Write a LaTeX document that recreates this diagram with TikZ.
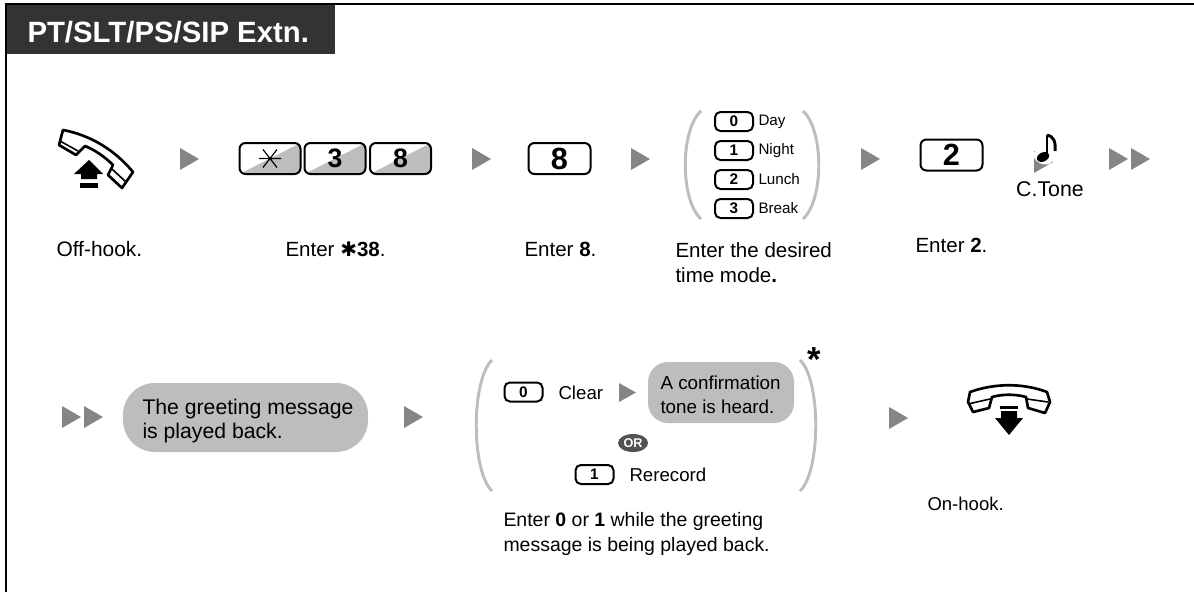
\documentclass[tikz,border=0pt]{standalone}
\usepackage{fontspec}
\usetikzlibrary{shapes.geometric}
\setmainfont{Liberation Sans}
\newfontfamily\symfont{DejaVu Sans}
\definecolor{markgray}{HTML}{858585}
\definecolor{softgray}{HTML}{BDBDBD}
\definecolor{headgray}{HTML}{333333}
\tikzset{every picture/.style={line width=0.75pt}}
\tikzset{
    bigkey/.style={draw, line width=1.5pt, rounded corners=4.5, minimum width=62*0.75pt, minimum height=31*0.75pt, inner sep=0pt, font=\fontsize{23}{23}\bfseries\selectfont},
    halfkey/.style={bigkey, minimum width=61*0.75pt, font=\fontsize{20}{20}\bfseries\selectfont, path picture={\fill[softgray] (path picture bounding box.south west) -- (path picture bounding box.north east) -- (path picture bounding box.south east) -- cycle;}},
    smallkey/.style={draw, line width=1.5pt, rounded corners=4, minimum width=38*0.75pt, minimum height=19*0.75pt, inner sep=0pt, font=\fontsize{11.5}{11.5}\bfseries\selectfont},
    steptext/.style={font=\fontsize{15.4}{18.5}\selectfont, align=left, inner sep=0pt},
    choicetext/.style={font=\fontsize{14.6}{19}\selectfont, align=left, inner sep=0pt},
    picktext/.style={font=\fontsize{11.4}{11.4}\selectfont, anchor=west, inner sep=0pt},
    choiceword/.style={font=\fontsize{14}{14}\selectfont, anchor=west, inner sep=0pt},
    bubble/.style={fill=softgray, inner sep=0pt},
    bubbletext/.style={align=left, anchor=west, inner sep=0pt},
    bracket/.style={draw=softgray, line width=2.2pt},
    playmark/.style={fill=markgray}
}

\begin{document}
\begin{tikzpicture}[x=0.75pt,y=0.75pt,yscale=-1,xscale=1]
    \useasboundingbox (0,0) rectangle (1194,592);

    %Frame
    \draw[line width=2pt] (6,592) -- (6,4) -- (1194,4);
    \fill[headgray] (7,5) rectangle (335,54);
    \node (title) [anchor=west, inner sep=0pt, text=white, font=\fontsize{22}{22}\bfseries\selectfont] at (27,32) {PT/SLT/PS/SIP Extn.};

    %Play marks
    \foreach \ax/\ay in {180/159, 472/159, 631/159, 861/159, 1109/159, 1131/159, 62/417, 84/417, 404/417, 889/418}
        \fill[playmark] (\ax,\ay-11) -- (\ax+19,\ay) -- (\ax,\ay+11) -- cycle;
    \fill[playmark] (619,383) -- (636,392.5) -- (619,402) -- cycle;
    \fill[playmark] (1034,151) -- (1053,162) -- (1034,173) -- cycle;

    %Off-hook
    \draw[line width=2pt, line join=round] (63,130) .. controls (90,135) and (115,150) .. (133,172) -- (122,188) -- (108,175) -- (113,165) .. controls (105,157) and (95,150) .. (85,146) -- (76,155) -- (59,145) -- cycle;
    \draw[line width=1.2pt] (60,141) -- (78,151) (112,169) -- (126,182);
    \fill (89,160) -- (103,174) -- (97,174) -- (97,179) -- (81,179) -- (81,174) -- (74,174) -- cycle;
    \fill (80,183) rectangle (98,188);
    \node (offhooklabel) [steptext, font=\fontsize{15.7}{16}\selectfont, anchor=west] at (56,249) {Off-hook.};

    %Star 3 8
    \node (keystar) [halfkey] at (270,158.5) {};
    \draw[line width=0.9pt] (keystar.center) ++(-11,0) -- ++(22,0) (keystar.center) ++(-7,-9) -- ++(14,18) (keystar.center) ++(7,-9) -- ++(-14,18);
    \node (keythree) [halfkey] at (335,158.5) {3};
    \node (keyeight) [halfkey] at (400.5,158.5) {8};
    \node (enterstar) [steptext, anchor=west] at (285,249) {Enter {\symfont\bfseries\fontsize{15}{15}\selectfont ✱}\textbf{38}.};

    %8
    \node (keyfeature) [bigkey] at (559.5,158.5) {8};
    \node (enterfeature) [steptext, anchor=west] at (524,249) {Enter \textbf{8}.};

    %Time mode
    \draw[bracket] (701,111) .. controls (680,130) and (680,200) .. (701,219);
    \draw[bracket] (803,111) .. controls (824,130) and (824,200) .. (803,219);
    \foreach \kname/\ky/\kword in {0/121.5/Day, 1/150.5/Night, 2/179.5/Lunch, 3/208.5/Break} {
        \node (mode\kname) [smallkey] at (734,\ky) {\kname};
        \node (word\kname) [picktext] at (758,\ky) {\kword};
    }
    \node (entermode) [steptext, anchor=west] at (675,262.5) {Enter the desired\\time mode\textbf{.}};

    %2
    \node (keymode) [bigkey] at (951.5,155) {2};
    \node (entermodekey) [steptext, anchor=west] at (915,245) {Enter \textbf{2}.};

    %C.Tone
    \fill[white, rotate around={25:(1043,157)}] (1043,157) ellipse (10 and 7);
    \fill[rotate around={-25:(1043,157)}] (1043,157) ellipse (6.5 and 4.5);
    \draw[line width=1.5pt] (1047,156) -- (1047,135);
    \draw[line width=2.2pt] (1047,135) .. controls (1053,136) and (1056,141) .. (1055,151);
    \node (ctone) [steptext, font=\fontsize{16}{16}\selectfont, anchor=center] at (1050,189) {C.Tone};

    %Greeting
    \node (greeting) [bubble, rounded corners=24, minimum width=245*0.75pt, minimum height=69*0.75pt] at (245.5,417.5) {};
    \node (greetingtext) [bubbletext, font=\fontsize{15.9}{18}\selectfont] at (142,421) {The greeting message\\is played back.};

    %Clear or rerecord
    \draw[bracket] (492,360) .. controls (471,380) and (471,471) .. (492,491);
    \draw[bracket] (800,360) .. controls (821,380) and (821,471) .. (800,491);
    \node (star) [font=\fontsize{26}{26}\bfseries\selectfont, inner sep=0pt] at (814.5,360) {*};
    \node (keyclear) [smallkey] at (523.5,392) {0};
    \node (clear) [choiceword] at (558,393) {Clear};
    \node (tone) [bubble, minimum width=146*0.75pt, minimum height=61*0.75pt, rounded corners=15] at (721,392.5) {};
    \node (tonetext) [bubbletext, font=\fontsize{14.1}{18}\selectfont] at (660,394.5) {A confirmation\\tone is heard.};
    \node (orbadge) [ellipse, fill=headgray!85, minimum width=30*0.75pt, minimum height=18*0.75pt, inner sep=0pt, text=white, font=\fontsize{9.5}{9.5}\bfseries\selectfont] at (633,443) {OR};
    \node (keyrerecord) [smallkey] at (594.5,474.5) {1};
    \node (rerecord) [choiceword] at (629,475) {Rerecord};
    \node (enterchoice) [choicetext, anchor=west] at (503,534) {Enter \textbf{0} or \textbf{1} while the greeting\\message is being played back.};

    %On-hook
    \draw[line width=2pt, line join=round] (970,392) .. controls (995,383) and (1023,383) .. (1047,392) -- (1050,402) -- (1045,413) -- (1028,408) -- (1026,397) .. controls (1015,394) and (1003,394) .. (992,397) -- (989,408) -- (973,412) -- (968,402) -- cycle;
    \draw[line width=1.2pt] (968,404) -- (990,399) (1027,399) -- (1048,402);
    \fill (1000,406) rectangle (1018,409);
    \fill (1001,411) -- (1017,411) -- (1017,418) -- (1023,418) -- (1009,435) -- (995,418) -- (1001,418) -- cycle;
    \node (onhooklabel) [choicetext, font=\fontsize{13.9}{14}\selectfont, anchor=west] at (927,504) {On-hook.};
\end{tikzpicture}
\end{document}
